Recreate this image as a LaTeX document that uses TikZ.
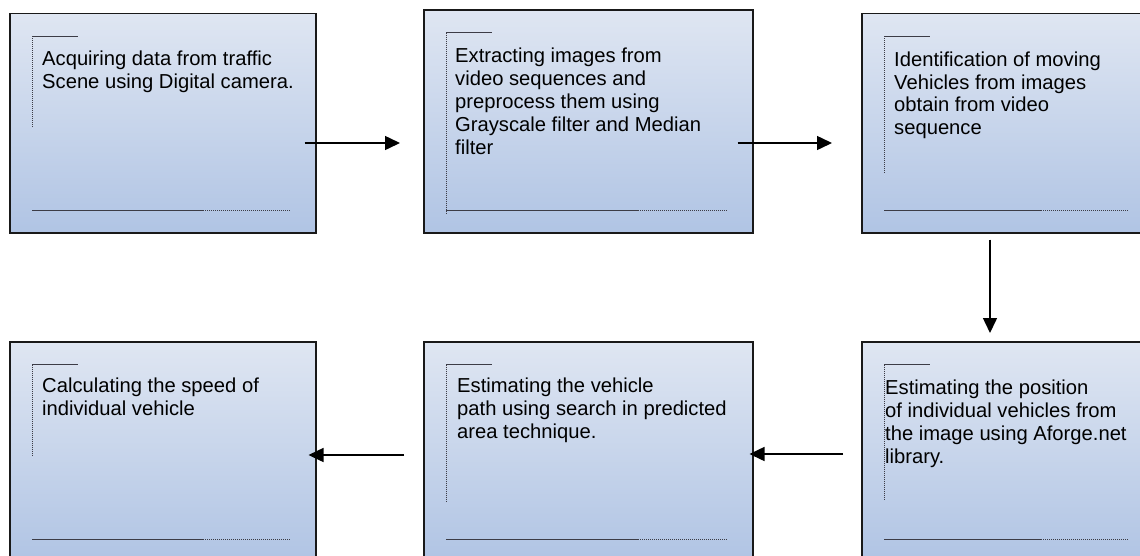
\documentclass[tikz,border=0pt]{standalone}
\usepackage{fontspec}
\setmainfont{Liberation Sans}
\usetikzlibrary{arrows.meta}
\definecolor{boxtop}{RGB}{223,230,242}
\definecolor{boxbot}{RGB}{176,196,228}
\definecolor{edge}{RGB}{25,25,25}
\definecolor{dotc}{RGB}{60,60,70}
\tikzset{
  flowbox/.style={draw=edge, line width=1.5pt, top color=boxtop, bottom color=boxbot,
    anchor=north west, inner sep=0pt, minimum width=#1},
  txt/.style={anchor=north west, inner sep=0pt, align=left,
    font=\fontsize{20.2}{22.8}\selectfont},
  solidline/.style={draw=dotc, line width=0.9pt},
  dotline/.style={draw=dotc, line width=0.9pt, dash pattern=on 1pt off 1pt},
  arr/.style={draw=black, line width=1.5pt, -{Triangle[length=15pt,width=14pt]}}
}
\newcommand\boxdeco[4]{% #1 box name, #2 vertical length, #3 solid length, #4 dotted length
  \coordinate (#1-tl) at ([shift={(23pt,-23.5pt)}]#1.north west);
  \coordinate (#1-bl) at ([shift={(23pt,23pt)}]#1.south west);
  \draw[solidline] (#1-tl) -- ++(46pt,0pt);
  \draw[dotline] (#1-tl) -- ++(0pt,-#2pt);
  \draw[solidline] (#1-bl) -- ++(#3pt,0pt) coordinate (#1-bm);
  \draw[dotline] (#1-bm) -- ++(#4pt,0pt);
}
\begin{document}
\begin{tikzpicture}[x=1pt,y=-1pt]
\useasboundingbox (0,0) rectangle (1140,555);
\clip (0,0) rectangle (1140,555);
\fill[white] (0,0) rectangle (1140,555);

% top row
\node[flowbox=306pt, minimum height=219.5pt] (b1) at (9,12.5) {};
\node[flowbox=329pt, minimum height=223pt] (b2) at (423,9) {};
\node[flowbox=291pt, minimum height=219.5pt] (b3) at (861,12.5) {};
% bottom row
\node[flowbox=306pt, minimum height=220pt] (b6) at (9,341) {};
\node[flowbox=329pt, minimum height=220pt] (b4) at (423,341) {};
\node[flowbox=291pt, minimum height=220pt] (b5) at (861,341) {};

\boxdeco{b1}{92}{171}{87}
\boxdeco{b2}{181}{192}{89}
\boxdeco{b3}{138}{157}{88}
\boxdeco{b4}{138}{192}{89}
\boxdeco{b5}{136}{157}{88}
\boxdeco{b6}{91}{171}{87}

\node[txt] (t1) at ([shift={(33pt,-38.5pt)}]b1.north west)
  {Acquiring data from traffic\\Scene using Digital camera.};
\node[txt] (t2) at ([shift={(32pt,-39pt)}]b2.north west)
  {Extracting images from\\video sequences and\\preprocess them using\\Grayscale filter and Median\\filter};
\node[txt] (t3) at ([shift={(33pt,-39pt)}]b3.north west)
  {Identification of moving\\Vehicles from images\\obtain from video\\sequence};
\node[txt] (t4) at ([shift={(34pt,-37pt)}]b4.north west)
  {Estimating the vehicle\\path using search in predicted\\area technique.};
\node[txt] (t5) at ([shift={(24pt,-39pt)}]b5.north west)
  {Estimating the position\\of individual vehicles from\\the image using Aforge.net\\library.};
\node[txt] (t6) at ([shift={(33pt,-37pt)}]b6.north west)
  {Calculating the speed of\\individual vehicle};

% connectors
\coordinate (a1s) at ([shift={(-12pt,-130.5pt)}]b1.north east);
\coordinate (a1e) at ([shift={(-23pt,-134pt)}]b2.north west);
\draw[arr] (a1s) -- (a1e);
\coordinate (a2s) at ([shift={(-16pt,-134pt)}]b2.north east);
\coordinate (a2e) at ([shift={(-29pt,-130.5pt)}]b3.north west);
\draw[arr] (a2s) -- (a2e);
\coordinate (a3s) at ([shift={(129pt,-6pt)}]b3.south west);
\coordinate (a3e) at ([shift={(129pt,8pt)}]b5.north west);
\draw[arr] (a3s) -- (a3e);
\coordinate (a4s) at ([shift={(-18pt,-113pt)}]b5.north west);
\coordinate (a4e) at ([shift={(-4pt,-113pt)}]b4.north east);
\draw[arr] (a4s) -- (a4e);
\coordinate (a5s) at ([shift={(-19pt,-114pt)}]b4.north west);
\coordinate (a5e) at ([shift={(-8pt,-114pt)}]b6.north east);
\draw[arr] (a5s) -- (a5e);
\end{tikzpicture}
\end{document}
